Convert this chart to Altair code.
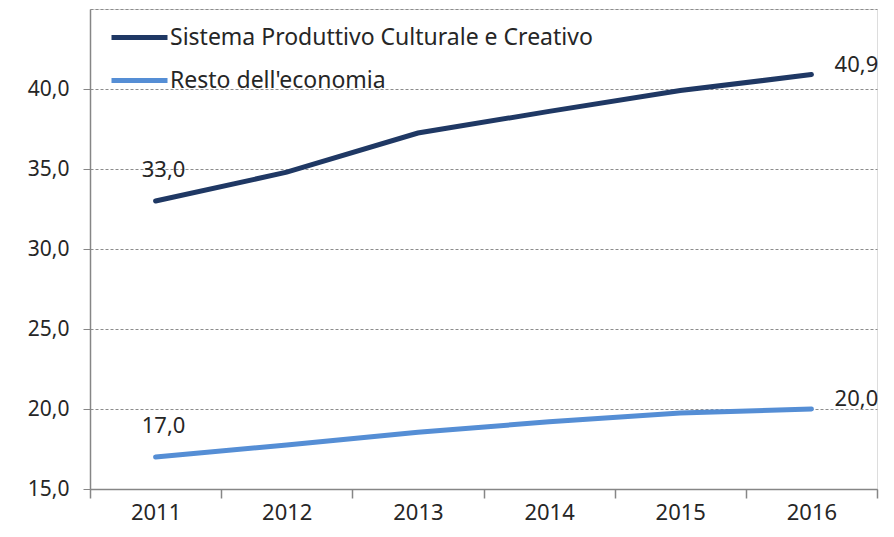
import altair as alt
import pandas as pd

years = [2011, 2012, 2013, 2014, 2015, 2016]
series_names = ["Sistema Produttivo Culturale e Creativo", "Resto dell'economia"]
sistema = [33.0, 34.8, 37.25, 38.6, 39.9, 40.9]
resto = [17.0, 17.75, 18.55, 19.2, 19.75, 20.0]
colors = ["#1F3864", "#558ED5"]
y_ticks = [15, 20, 25, 30, 35, 40, 45]

rows = []
for name, vals in zip(series_names, [sistema, resto]):
    for i, (yr, v) in enumerate(zip(years, vals)):
        rows.append({
            "year": str(yr),
            "value": v,
            "series": name,
            "pos": "first" if i == 0 else ("last" if i == len(years) - 1 else "mid"),
            "label": f"{v:.1f}".replace(".", ","),
        })
df = pd.DataFrame(rows)

FONT = "Noto Sans"
TXT = "#262626"

x_enc = alt.X(
    "year:O",
    bandPosition=0.5,
    scale=alt.Scale(type="band", paddingInner=0, paddingOuter=0),
    axis=alt.Axis(
        title=None, tickBand="extent", grid=False, labelAngle=0,
        domainColor="#868686", domainWidth=1.5, tickColor="#868686", tickWidth=1.5,
        tickSize=9, labelPadding=4, labelFontSize=22, labelFont=FONT, labelColor=TXT,
    ),
)
y_enc = alt.Y(
    "value:Q",
    scale=alt.Scale(domain=[15, 45], nice=False, zero=False),
    axis=alt.Axis(
        title=None, values=y_ticks, grid=True, gridDash=[3, 2], gridColor="#8c8c8c",
        gridWidth=1, domainColor="#868686", domainWidth=1.5, tickColor="#868686",
        tickSize=7, tickWidth=1, labelPadding=14, labelFontSize=21, labelFont=FONT,
        labelColor=TXT,
        tickOpacity={"condition": {"test": "datum.value == 45", "value": 0}, "value": 1},
        labelExpr="datum.value == 45 ? '' : replace(format(datum.value, '.1f'), '.', ',')",
    ),
)

color_enc = alt.Color(
    "series:N",
    scale=alt.Scale(domain=series_names, range=colors),
    legend=alt.Legend(
        title=None, orient="none", legendX=19, legendY=-2, padding=0,
        symbolType="stroke", symbolStrokeWidth=5, symbolSize=3136,
        labelFontSize=23, labelFont=FONT, labelColor=TXT, labelOffset=0,
        rowPadding=-20, labelLimit=600,
    ),
)

base = alt.Chart(df)
lines = base.mark_line(strokeWidth=5, strokeCap="round").encode(
    x=x_enc, y=y_enc, color=color_enc, detail="series:N"
)
first_lbl = base.transform_filter("datum.pos == 'first'").mark_text(
    fontSize=22, font=FONT, color=TXT, dx=8, dy=-31, align="center"
).encode(x=alt.X("year:O", bandPosition=0.5), y="value:Q", text="label:N")
last_lbl = base.transform_filter("datum.pos == 'last'").mark_text(
    fontSize=22, font=FONT, color=TXT, dx=45, dy=-10, align="center"
).encode(x=alt.X("year:O", bandPosition=0.5), y="value:Q", text="label:N")

chart = alt.layer(lines, first_lbl, last_lbl).properties(
    width=787, height=480,
    autosize=alt.AutoSizeParams(type="none"),
    padding={"left": 82, "top": 1, "right": 9, "bottom": 37},
).configure_view(stroke=None).configure(background="white")

chart.save("out.html", embed_options={"renderer": "svg", "actions": False})
